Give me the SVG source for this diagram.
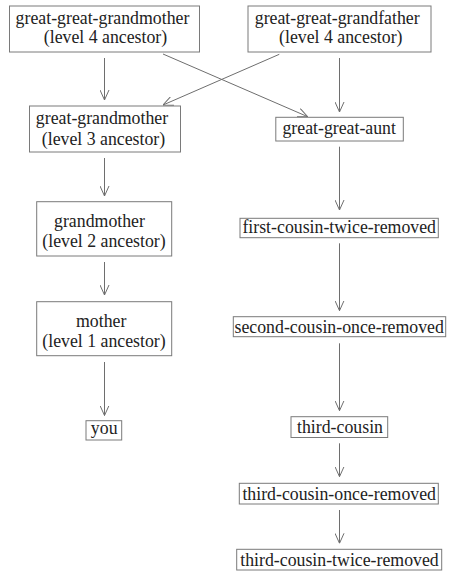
<svg xmlns="http://www.w3.org/2000/svg" width="450" height="579" viewBox="0 0 450 579">
<style>
.box{fill:#fff;stroke:#7a7a7a;stroke-width:1}
.e{stroke:#6e6e6e;stroke-width:1;fill:none;marker-end:url(#v)}
</style>
<defs>
<marker id="v" viewBox="0 0 10 10" refX="10" refY="5" markerWidth="10" markerHeight="10" markerUnits="userSpaceOnUse" orient="auto">
<path d="M0,0.5 L10,5 L0,9.5" fill="none" stroke="#6e6e6e" stroke-width="1"/>
</marker>
</defs>
<rect width="450" height="579" fill="#fff"/>
<g id="connectors">
<line class="e" x1="104.5" y1="58" x2="104.5" y2="100"/>
<line class="e" x1="104.5" y1="158" x2="104.5" y2="196"/>
<line class="e" x1="104.5" y1="262" x2="104.5" y2="295"/>
<line class="e" x1="104.5" y1="362" x2="104.5" y2="415.5"/>
<line class="e" x1="279.3" y1="54.3" x2="163" y2="105"/>
<line class="e" x1="163" y1="54" x2="307.7" y2="116.7"/>
<line class="e" x1="339.5" y1="58" x2="339.5" y2="112"/>
<line class="e" x1="339.5" y1="146.7" x2="339.5" y2="210"/>
<line class="e" x1="339.5" y1="243.3" x2="339.5" y2="310.7"/>
<line class="e" x1="339.5" y1="343.3" x2="339.5" y2="410.7"/>
<line class="e" x1="339.5" y1="443.3" x2="339.5" y2="476.7"/>
<line class="e" x1="339.5" y1="510" x2="339.5" y2="543.3"/>
</g>
<g font-family="Liberation Serif" font-size="17.8" fill="#222" text-anchor="middle">
<g id="ggg-mother">
<rect class="box" x="9.5" y="6" width="190" height="46"/>
<text x="102.5" y="24">great-great-grandmother</text>
<text x="105.5" y="43">(level 4 ancestor)</text>
</g>
<g id="ggg-father">
<rect class="box" x="248" y="6" width="183" height="46"/>
<text x="337.2" y="24">great-great-grandfather</text>
<text x="340.8" y="43">(level 4 ancestor)</text>
</g>
<g id="gg-mother">
<rect class="box" x="29.5" y="106" width="151" height="46"/>
<text x="102" y="123.5">great-grandmother</text>
<text x="103.5" y="145">(level 3 ancestor)</text>
</g>
<g id="gg-aunt">
<rect class="box" x="275.8" y="117.3" width="127.5" height="23.7"/>
<text x="339.2" y="134">great-great-aunt</text>
</g>
<g id="grandmother">
<rect class="box" x="36.7" y="201.7" width="135" height="54.3"/>
<text x="99.5" y="227.3">grandmother</text>
<text x="104" y="247.3">(level 2 ancestor)</text>
</g>
<g id="mother">
<rect class="box" x="36.7" y="301.7" width="135" height="54"/>
<text x="101.2" y="326.7">mother</text>
<text x="104" y="347.3">(level 1 ancestor)</text>
</g>
<g id="you">
<rect class="box" x="86" y="420.7" width="35.7" height="19.3"/>
<text x="104.2" y="433.5">you</text>
</g>
<g id="first-cousin-twice-removed">
<rect class="box" x="240" y="218.3" width="198.3" height="19.4"/>
<text x="339.2" y="233.3">first-cousin-twice-removed</text>
</g>
<g id="second-cousin-once-removed">
<rect class="box" x="233.3" y="316.7" width="212.4" height="20"/>
<text x="339.2" y="332.7">second-cousin-once-removed</text>
</g>
<g id="third-cousin">
<rect class="box" x="291" y="416.7" width="96.7" height="20.8"/>
<text x="340" y="433.3">third-cousin</text>
</g>
<g id="third-cousin-once-removed">
<rect class="box" x="239.3" y="483.3" width="199" height="20.7"/>
<text x="339.2" y="500">third-cousin-once-removed</text>
</g>
<g id="third-cousin-twice-removed">
<rect class="box" x="236.7" y="549.3" width="205" height="20.7"/>
<text x="339.5" y="565.7">third-cousin-twice-removed</text>
</g>
</g>
</svg>
